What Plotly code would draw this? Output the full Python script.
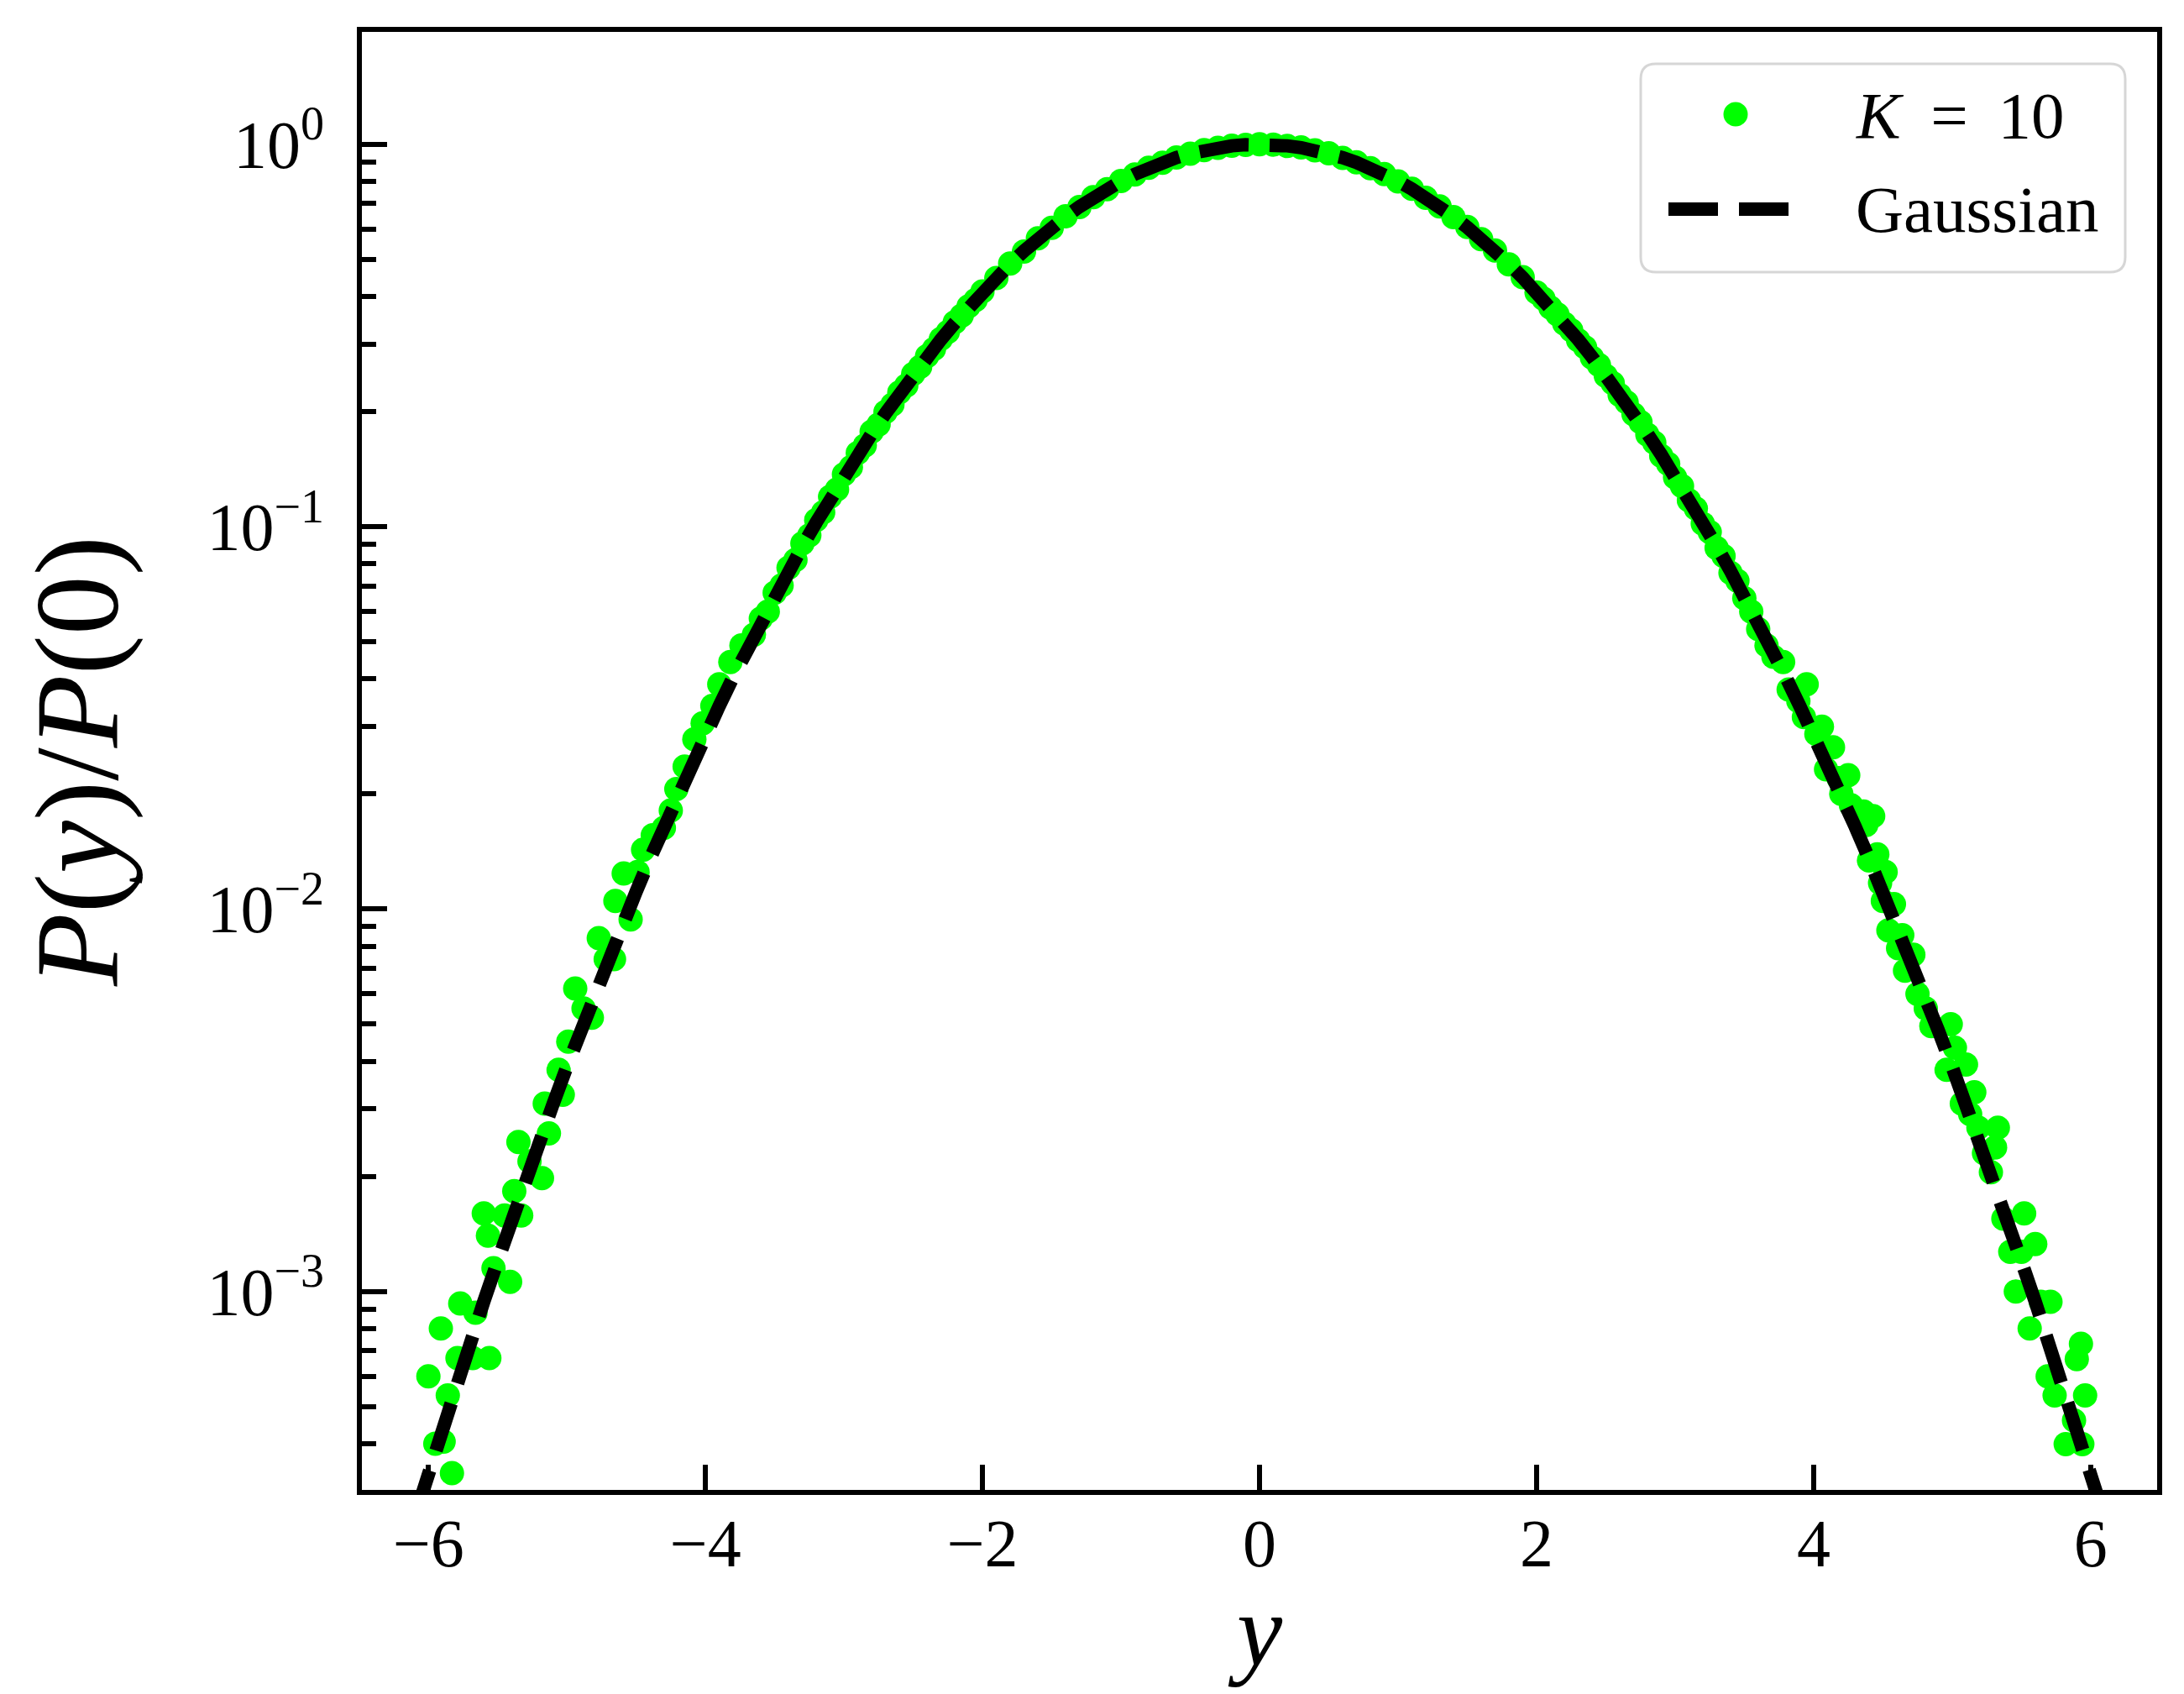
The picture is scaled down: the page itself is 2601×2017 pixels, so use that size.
import plotly.graph_objects as go

# ---------------- data ----------------
# Gaussian reference curve  P(y)/P(0)
gauss_x = [-6.1, -6.0, -5.9, -5.8, -5.7, -5.6, -5.5, -5.4, -5.3, -5.2, -5.1, -5.0,
           -4.9, -4.8, -4.7, -4.6, -4.5, -4.4, -4.3, -4.2, -4.1, -4.0,
           -3.9, -3.8, -3.7, -3.6, -3.5, -3.4, -3.3, -3.2, -3.1, -3.0,
           -2.9, -2.8, -2.7, -2.6, -2.5, -2.4, -2.3, -2.2, -2.1, -2.0,
           -1.9, -1.8, -1.7, -1.6, -1.5, -1.4, -1.3, -1.2, -1.1, -1.0,
           -0.9, -0.8, -0.7, -0.6, -0.5, -0.4, -0.3, -0.2, -0.1, 0.0,
           0.1, 0.2, 0.3, 0.4, 0.5, 0.6, 0.7, 0.8, 0.9, 1.0,
           1.1, 1.2, 1.3, 1.4, 1.5, 1.6, 1.7, 1.8, 1.9, 2.0,
           2.1, 2.2, 2.3, 2.4, 2.5, 2.6, 2.7, 2.8, 2.9, 3.0,
           3.1, 3.2, 3.3, 3.4, 3.5, 3.6, 3.7, 3.8, 3.9, 4.0,
           4.1, 4.2, 4.3, 4.4, 4.5, 4.6, 4.7, 4.8, 4.9, 5.0,
           5.1, 5.2, 5.3, 5.4, 5.5, 5.6, 5.7, 5.8, 5.9, 6.0, 6.1]
gauss_y = [0.000256, 0.000335, 0.000437, 0.000567, 0.000732, 0.000941, 0.00120, 0.00154,
           0.00195, 0.00246, 0.00309, 0.00387,
           0.00482, 0.00598, 0.00738, 0.00907, 0.01111, 0.01354, 0.01643, 0.0198, 0.0239, 0.0286,
           0.0340, 0.0404, 0.0477, 0.0561, 0.0657, 0.0766, 0.0889, 0.1027, 0.1182, 0.1353,
           0.1543, 0.1751, 0.1979, 0.2226, 0.2494, 0.2780, 0.3087, 0.3411, 0.3753, 0.4111,
           0.4483, 0.4868, 0.5261, 0.5662, 0.6065, 0.6469, 0.6869, 0.7261, 0.7642, 0.8007,
           0.8353, 0.8674, 0.8968, 0.9231, 0.9460, 0.9651, 0.9802, 0.9911, 0.9978, 1.0,
           0.9978, 0.9911, 0.9802, 0.9651, 0.9460, 0.9231, 0.8968, 0.8674, 0.8353, 0.8007,
           0.7642, 0.7261, 0.6869, 0.6469, 0.6065, 0.5662, 0.5261, 0.4868, 0.4483, 0.4111,
           0.3753, 0.3411, 0.3087, 0.2780, 0.2494, 0.2226, 0.1979, 0.1751, 0.1543, 0.1353,
           0.1182, 0.1027, 0.0889, 0.0766, 0.0657, 0.0561, 0.0477, 0.0404, 0.0340, 0.0286,
           0.0239, 0.0198, 0.01643, 0.01354, 0.01111, 0.00907, 0.00738, 0.00598, 0.00482, 0.00387,
           0.00309, 0.00246, 0.00195, 0.00154, 0.00120, 0.000941, 0.000732, 0.000567, 0.000437,
           0.000335, 0.000256]

# K = 10 simulation data
k10_x = [-6.00, -5.95, -5.91, -5.89, -5.86, -5.83, -5.79, -5.77, -5.68, -5.66,
         -5.60, -5.57, -5.56, -5.53, -5.45, -5.41, -5.38, -5.35, -5.33, -5.27,
         -5.18, -5.16, -5.13, -5.06, -5.03, -4.99, -4.94, -4.88, -4.82, -4.77,
         -4.72, -4.66, -4.65, -4.59, -4.54, -4.49, -4.45, -4.38, -4.30, -4.25,
         -4.21, -4.15, -4.08, -4.02, -3.95, -3.90, -3.82, -3.74, -3.65,
         -3.60, -3.55, -3.50, -3.45, -3.40, -3.35, -3.30, -3.25, -3.20, -3.15,
         -3.10, -3.05, -3.00, -2.95, -2.90, -2.85, -2.80, -2.75, -2.70, -2.65,
         -2.60, -2.55, -2.50, -2.45, -2.40, -2.35, -2.30, -2.25, -2.20, -2.15,
         -2.10, -2.05,
         -2.0, -1.9, -1.8, -1.7, -1.6, -1.5, -1.4, -1.3, -1.2, -1.1, -1.0,
         -0.9, -0.8, -0.7, -0.6, -0.5, -0.4, -0.3, -0.2, -0.1, 0.0,
         0.1, 0.2, 0.3, 0.4, 0.5, 0.6, 0.7, 0.8, 0.9, 1.0,
         1.1, 1.2, 1.3, 1.4, 1.5, 1.6, 1.7, 1.8, 1.9, 2.0,
         2.05, 2.10, 2.15, 2.20, 2.25, 2.30, 2.35, 2.40, 2.45, 2.50,
         2.55, 2.60, 2.65, 2.70, 2.75, 2.80, 2.85, 2.90, 2.95, 3.00,
         3.05, 3.10, 3.15, 3.20, 3.25, 3.30, 3.35, 3.40, 3.45, 3.50,
         3.55, 3.60, 3.66, 3.71, 3.78, 3.82, 3.89, 3.93, 3.95, 4.02,
         4.06, 4.09, 4.14, 4.18, 4.20, 4.25, 4.27, 4.36, 4.38, 4.40,
         4.43, 4.46, 4.48, 4.50, 4.52, 4.54, 4.58, 4.61, 4.64, 4.66,
         4.72, 4.75, 4.81, 4.85, 4.96, 4.99, 5.02, 5.07, 5.10, 5.13,
         5.16, 5.19, 5.23, 5.28, 5.31, 5.33, 5.37, 5.42, 5.46, 5.50,
         5.52, 5.56, 5.60, 5.64, 5.69, 5.71, 5.74, 5.82, 5.88, 5.90,
         5.93, 5.94, 5.96]
k10_y = [0.00060, 0.00040, 0.00080, 0.000405, 0.000535, 0.000335, 0.00067, 0.00093, 0.00067, 0.00088,
         0.00160, 0.00140, 0.00067, 0.00115, 0.00158, 0.00106, 0.00183, 0.00246, 0.00158, 0.00219,
         0.00198, 0.00310, 0.00259, 0.00380, 0.00327, 0.00450, 0.00620, 0.00550, 0.00520, 0.00840,
         0.00740, 0.00740, 0.01050, 0.01240, 0.00940, 0.01250, 0.01430, 0.01560, 0.01630, 0.01810,
         0.02060, 0.02360, 0.02780, 0.03060, 0.03400, 0.03870, 0.04430, 0.04890, 0.05220,
         0.0575, 0.0600, 0.0672, 0.0702, 0.0781, 0.0818, 0.0905, 0.0949, 0.1041, 0.1090,
         0.1198, 0.1252, 0.1371, 0.1431, 0.1560, 0.1630, 0.1772, 0.1850, 0.1995, 0.2085,
         0.2245, 0.2340, 0.2510, 0.2618, 0.2795, 0.2915, 0.3100, 0.3230, 0.3425, 0.3565,
         0.3768, 0.3915,
         0.4125, 0.4470, 0.4880, 0.5245, 0.5675, 0.6050, 0.6485, 0.6855, 0.7275, 0.7630, 0.8020,
         0.8340, 0.8685, 0.8955, 0.9240, 0.9450, 0.9660, 0.9790, 0.9920, 0.9970, 1.0000,
         0.9985, 0.9900, 0.9815, 0.9640, 0.9470, 0.9220, 0.8980, 0.8660, 0.8365, 0.7995,
         0.7655, 0.7250, 0.6880, 0.6455, 0.6080, 0.5650, 0.5275, 0.4855, 0.4495, 0.4100,
         0.3945, 0.3740, 0.3595, 0.3398, 0.3262, 0.3075, 0.2945, 0.2768, 0.2650, 0.2480,
         0.2372, 0.2212, 0.2115, 0.1968, 0.1878, 0.1740, 0.1660, 0.1532, 0.1460, 0.1345,
         0.1278, 0.1172, 0.1115, 0.1018, 0.0968, 0.0880, 0.0838, 0.0758, 0.0722, 0.0650,
         0.0600, 0.0540, 0.0489, 0.0457, 0.0443, 0.0375, 0.0350, 0.0318, 0.0387, 0.0287,
         0.0300, 0.0232, 0.0265, 0.0220, 0.0200, 0.0224, 0.0187, 0.0180, 0.0166, 0.0134,
         0.0175, 0.0139, 0.0117, 0.0105, 0.0125, 0.0088, 0.0103, 0.0079, 0.00855, 0.0069,
         0.0076, 0.0060, 0.0055, 0.00494, 0.0038, 0.0050, 0.00434, 0.0031, 0.00392, 0.00291,
         0.00332, 0.00268, 0.0023, 0.00205, 0.00238, 0.00268, 0.00155, 0.00127, 0.00100, 0.00127,
         0.00160, 0.00080, 0.00133, 0.00094, 0.00060, 0.00094, 0.000535, 0.000399, 0.00046, 0.000665,
         0.00073, 0.000399, 0.000535]

x_ticks = [-6, -4, -2, 0, 2, 4, 6]
y_ticks = [1e-3, 1e-2, 1e-1, 1.0]
y_ticktext = ["10<sup>\u22123</sup>", "10<sup>\u22122</sup>", "10<sup>\u22121</sup>", "10<sup>0</sup>"]
y_minor = [4e-4, 5e-4, 6e-4, 7e-4, 8e-4, 9e-4,
           2e-3, 3e-3, 4e-3, 5e-3, 6e-3, 7e-3, 8e-3, 9e-3,
           2e-2, 3e-2, 4e-2, 5e-2, 6e-2, 7e-2, 8e-2, 9e-2,
           0.2, 0.3, 0.4, 0.5, 0.6, 0.7, 0.8, 0.9]
legend_labels = ["<i>K</i> \u2009= \u200910", "Gaussian"]

# ---------------- layout constants ----------------
# the page body has an 8px margin; all target positions below are screen pixels
OFF = 8
SW, SH = 2601, 2017
W, H = SW - 2 * OFF, SH - 2 * OFF
PL, PR, PT, PB = 431, 2569, 38, 1774          # plot area edges on screen
ML, MT = PL - OFF, PT - OFF
MR, MB = W - (PR - OFF), H - (PB - OFF)
PW, PH = PR - PL, PB - PT
FONT = "Liberation Serif"
GREEN = "#00ff00"


def px(X):
    return (X - PL) / PW


def py(Y):
    return (PB - Y) / PH


fig = go.Figure()
fig.add_trace(go.Scatter(x=k10_x, y=k10_y, mode="markers", name=legend_labels[0],
                         marker=dict(color=GREEN, size=29, line=dict(width=0)),
                         showlegend=False))
fig.add_trace(go.Scatter(x=gauss_x, y=gauss_y, mode="lines", name=legend_labels[1],
                         line=dict(color="black", width=16, dash="59px,25px"),
                         showlegend=False))

axis_common = dict(showline=True, linewidth=6, linecolor="black", mirror=True,
                   showgrid=False, zeroline=False, ticks="inside", ticklen=30,
                   tickwidth=6, tickcolor="black",
                   tickfont=dict(family=FONT, size=80, color="black"))

fig.update_xaxes(range=[-6.48, 6.48], tickvals=x_ticks, ticklabelstandoff=-11,
                 title=dict(text="<i>y</i>", font=dict(family=FONT, size=122, color="black"),
                            standoff=30),
                 **axis_common)
fig.update_yaxes(type="log", range=[-3.519, 0.294], tickvals=y_ticks, ticktext=y_ticktext,
                 ticklabelstandoff=23,
                 minor=dict(tickvals=y_minor, ticks="inside", ticklen=17, tickwidth=6,
                            tickcolor="black"),
                 title=dict(text="<i>P</i>(<i>y</i>)/<i>P</i>(0)",
                            font=dict(family=FONT, size=142, color="black"), standoff=60),
                 **axis_common)

# ---- legend drawn manually (matplotlib style frame) ----
LX0, LX1, LY0, LY1, R = 1954, 2531, 76, 324, 18
rx, ry = R / PW, R / PH
x0, x1, y0, y1 = px(LX0), px(LX1), py(LY1), py(LY0)
path = (f"M{x0+rx},{y0} L{x1-rx},{y0} Q{x1},{y0} {x1},{y0+ry} "
        f"L{x1},{y1-ry} Q{x1},{y1} {x1-rx},{y1} L{x0+rx},{y1} Q{x0},{y1} {x0},{y1-ry} "
        f"L{x0},{y0+ry} Q{x0},{y0} {x0+rx},{y0} Z")
shapes = [
    dict(type="path", path=path, xref="paper", yref="paper",
         fillcolor="rgba(255,255,255,0.8)", line=dict(color="#d6d6d6", width=3)),
    dict(type="circle", xref="paper", yref="paper",
         x0=px(2067 - 14.5), x1=px(2067 + 14.5), y0=py(136 + 14.5), y1=py(136 - 14.5),
         fillcolor=GREEN, line=dict(width=0)),
    dict(type="line", xref="paper", yref="paper",
         x0=px(1987), x1=px(2130), y0=py(249), y1=py(249),
         line=dict(color="black", width=16, dash="59px,25px")),
]
annotations = [
    dict(text=legend_labels[0], x=px(2208), y=py(137), xref="paper", yref="paper",
         xanchor="left", yanchor="middle", showarrow=False,
         font=dict(family=FONT, size=79, color="black")),
    dict(text=legend_labels[1], x=px(2208), y=py(250), xref="paper", yref="paper",
         xanchor="left", yanchor="middle", showarrow=False,
         font=dict(family=FONT, size=79, color="black")),
]

fig.update_layout(width=W, height=H, margin=dict(l=ML, r=MR, t=MT, b=MB, autoexpand=False),
                  paper_bgcolor="white", plot_bgcolor="white",
                  shapes=shapes, annotations=annotations, showlegend=False)

fig.write_html("out.html")
